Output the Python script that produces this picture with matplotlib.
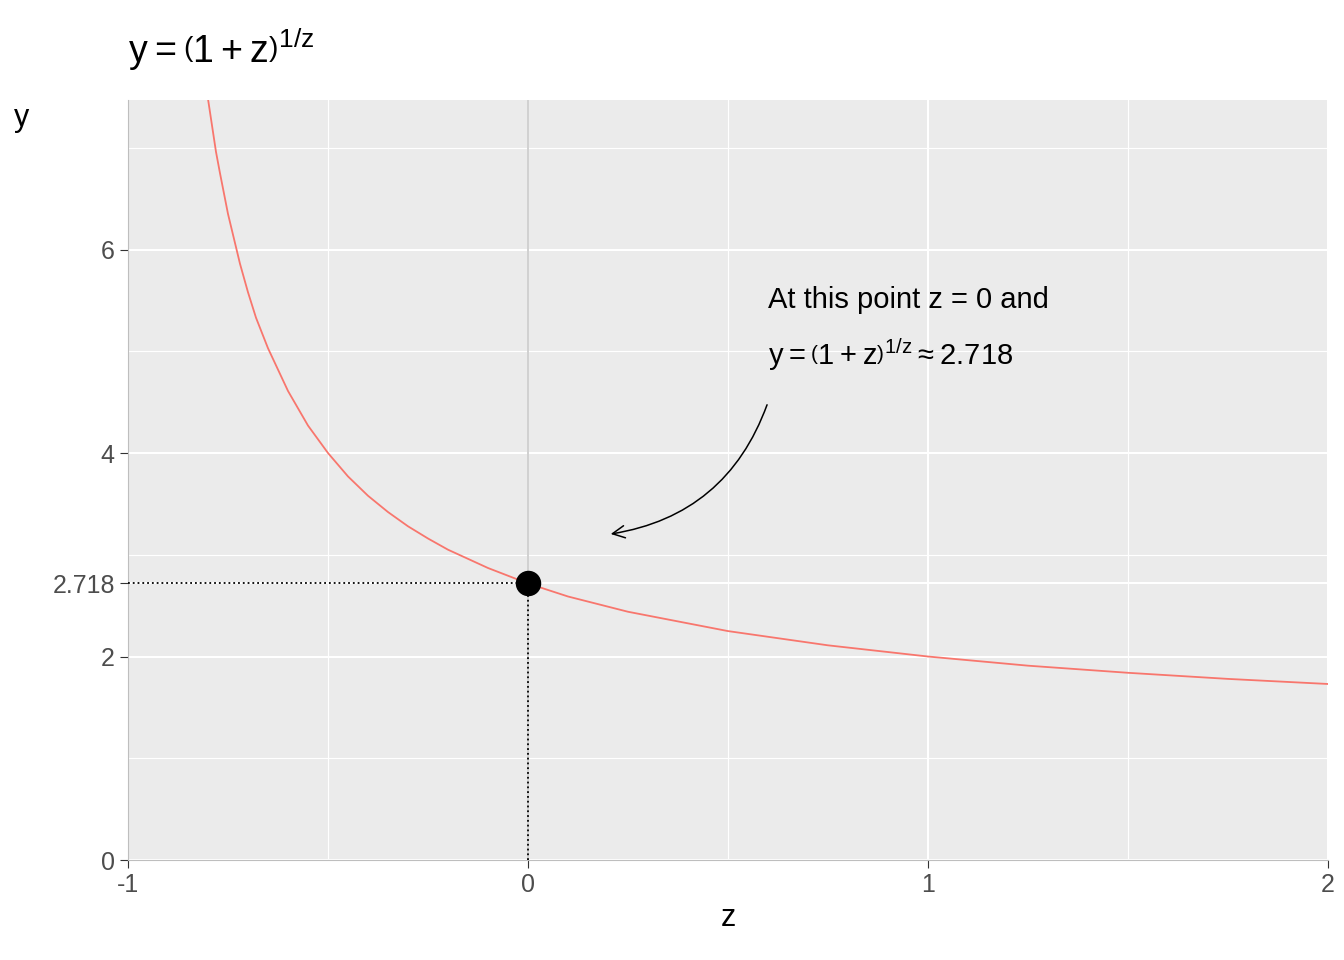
import matplotlib
matplotlib.use("Agg")
import matplotlib.pyplot as plt

plt.rcParams['font.family'] = ['Liberation Sans', 'DejaVu Sans']
plt.rcParams['mathtext.fontset'] = 'custom'
plt.rcParams['mathtext.rm'] = 'Liberation Sans'

z = [-0.8, -0.79, -0.78, -0.77, -0.75, -0.72, -0.7, -0.68, -0.65, -0.6, -0.55, -0.5, -0.45,
     -0.4, -0.35, -0.3, -0.25, -0.2, -0.1, 0.0,
     0.1, 0.25, 0.5, 0.75, 1.0, 1.25, 1.5, 1.75, 2.0]
y = [7.48, 7.22, 6.96, 6.75, 6.35, 5.86, 5.58, 5.33, 5.03, 4.61, 4.27, 4.0, 3.77,
     3.58, 3.42, 3.28, 3.16, 3.05, 2.87, 2.718,
     2.59, 2.44, 2.25, 2.11, 2.0, 1.91, 1.84, 1.78, 1.73]
yticks = [0, 2, 2.718, 4, 6]
ytlabels = ["0", "2", "2.718", "4", "6"]
xticks = [-1, 0, 1, 2]

fig = plt.figure(figsize=(13.44, 9.6), dpi=100)
ax = fig.add_axes([128/1344, 100/960, 1200/1344, 760/960])
ax.set_facecolor("#EBEBEB")
ax.set_xlim(-1, 2)
ax.set_ylim(0, 7.47)
for v in [-0.5, 0.5, 1.5]:
    ax.axvline(v, color="white", lw=0.8, zorder=0)
for v in [1, 3, 5, 7]:
    ax.axhline(v, color="white", lw=0.8, zorder=0)
for v in xticks:
    ax.axvline(v, color="white", lw=1.5, zorder=0)
for v in yticks:
    ax.axhline(v, color="white", lw=1.5, zorder=0)
ax.axvline(0, color="#C8C8C8", lw=1.2, zorder=1)
for s in ax.spines.values():
    s.set_visible(False)
ax.spines["bottom"].set_visible(True); ax.spines["bottom"].set_color("#BEBEBE")
ax.spines["left"].set_visible(True); ax.spines["left"].set_color("#BEBEBE")

ax.plot(z, y, color="#F8766D", lw=1.3, zorder=3)
ax.plot([-1, 0], [2.718, 2.718], ls=":", color="black", lw=1.3, zorder=3)
ax.plot([0, 0], [0, 2.718], ls=":", color="black", lw=1.3, zorder=3)
ax.scatter([0], [2.718], s=300, color="black", zorder=4)

ax.set_xticks(xticks)
ax.set_xticklabels([str(v) for v in xticks])
ax.set_yticks(yticks)
ax.set_yticklabels(ytlabels)
ax.tick_params(labelsize=18, labelcolor="#4D4D4D", color="#333333", length=6)
ax.set_xlabel("z", fontsize=22)

fig.text(14/1344, 1-118/960, "y", fontsize=22, va="center")
fig.text(128/1344, 1-50/960, r"$\mathrm{y} = \left(1 + \mathrm{z}\right)^{1/\mathrm{z}}$", fontsize=27, va="center")

ax.text(0.6, 5.5, "At this point z = 0 and", fontsize=21, va="center")
ax.text(0.6, 4.97, r"$\mathrm{y} = \left(1 + \mathrm{z}\right)^{1/\mathrm{z}} \approx$2.718", fontsize=21, va="center")
ax.annotate("", xy=(0.2, 3.2), xytext=(0.6, 4.5),
            arrowprops=dict(arrowstyle="->", color="black", lw=1.1,
                            connectionstyle="arc3,rad=-0.3", mutation_scale=22))

fig.savefig("out.png", dpi=100)
